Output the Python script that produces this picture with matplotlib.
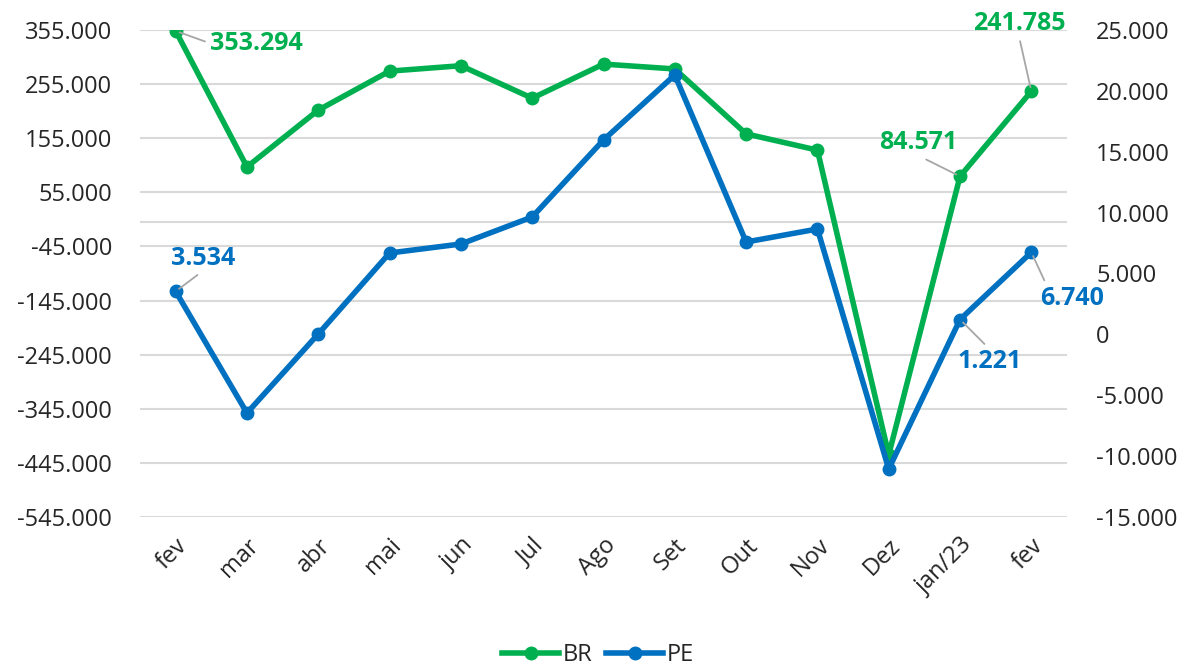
import matplotlib
matplotlib.use('Agg')
import matplotlib.pyplot as plt
from matplotlib.ticker import FuncFormatter, FixedLocator

plt.rcParams['font.family'] = ['Open Sans', 'DejaVu Sans']

months = ['fev', 'mar', 'abr', 'mai', 'jun', 'Jul', 'Ago', 'Set', 'Out', 'Nov', 'Dez', 'jan/23', 'fev']
br = [353294, 102000, 207000, 279000, 289000, 229000, 292000, 283000, 163000, 133000, -430000, 84571, 241785]
pe = [3534, -6458, 31, 6684, 7423, 9641, 15965, 21304, 7587, 8655, -11057, 1221, 6740]

left_ticks = [355000 - 100000 * i for i in range(10)]
right_ticks = [25000 - 5000 * i for i in range(9)]

GREEN = '#00B050'
BLUE = '#0070C0'
GRID = '#d9d9d9'
TXT = '#262626'


def fmt(v, pos=None):
    return '{:,.0f}'.format(v).replace(',', '.')


fig = plt.figure(figsize=(11.96, 6.71), dpi=100)
ax = fig.add_axes([140 / 1196, 1 - 517 / 671, 927 / 1196, 487 / 671])
ax2 = ax.twinx()

x = list(range(len(months)))

ax.set_ylim(min(left_ticks), max(left_ticks))
ax2.set_ylim(min(right_ticks), max(right_ticks))
ax.set_xlim(-0.5, len(months) - 0.5)

ax.yaxis.set_major_locator(FixedLocator(left_ticks))
ax2.yaxis.set_major_locator(FixedLocator(right_ticks))
ax.yaxis.set_major_formatter(FuncFormatter(fmt))
ax2.yaxis.set_major_formatter(FuncFormatter(fmt))

for t in left_ticks:
    ax.axhline(t, color=GRID, lw=1.5, zorder=0)
ax.axhline(0, color=GRID, lw=1.5, zorder=0)

for a in (ax, ax2):
    for s in a.spines.values():
        s.set_visible(False)
    a.tick_params(length=0, labelsize=17, colors=TXT)

ax.tick_params(axis='y', pad=20)
ax2.tick_params(axis='y', pad=21)
ax.set_xticks(x)
ax.set_xticklabels(months, rotation=45, ha='right', rotation_mode='anchor')
ax.tick_params(axis='x', pad=12)

l1, = ax.plot(x, br, color=GREEN, lw=4, marker='o', ms=9, label='BR', zorder=3)
l2, = ax2.plot(x, pe, color=BLUE, lw=4, marker='o', ms=9, label='PE', zorder=3)


def label(a, i, vals, color, off, ha, va, rel):
    lead = dict(arrowstyle='-', color='#a6a6a6', lw=1.3, shrinkA=2, shrinkB=3, relpos=rel)
    a.annotate(fmt(vals[i]), (i, vals[i]), xytext=off, textcoords='offset points',
               color=color, fontsize=18, fontweight='bold', ha=ha, va=va, arrowprops=lead)


# data labels with leader lines
label(ax, 0, br, GREEN, (25, -9), 'left', 'center', (0, 0.5))
label(ax, 11, br, GREEN, (-2, 24), 'right', 'center', (0.5, 0))
label(ax, 12, br, GREEN, (-9, 49), 'center', 'center', (0.5, 0))
label(ax2, 0, pe, BLUE, (20, 24), 'center', 'center', (0.5, 0))
label(ax2, 11, pe, BLUE, (21, -30), 'center', 'center', (0.5, 1))
label(ax2, 12, pe, BLUE, (6.5, -33), 'left', 'center', (0.1, 1))

fig.legend(handles=[l1, l2], loc='center', bbox_to_anchor=(0.5, 1 - 655 / 671), ncol=2,
           frameon=False, fontsize=17, handlelength=2.4, columnspacing=0.6, handletextpad=0.15,
           labelcolor=TXT)

fig.savefig('out.png', dpi=100)
